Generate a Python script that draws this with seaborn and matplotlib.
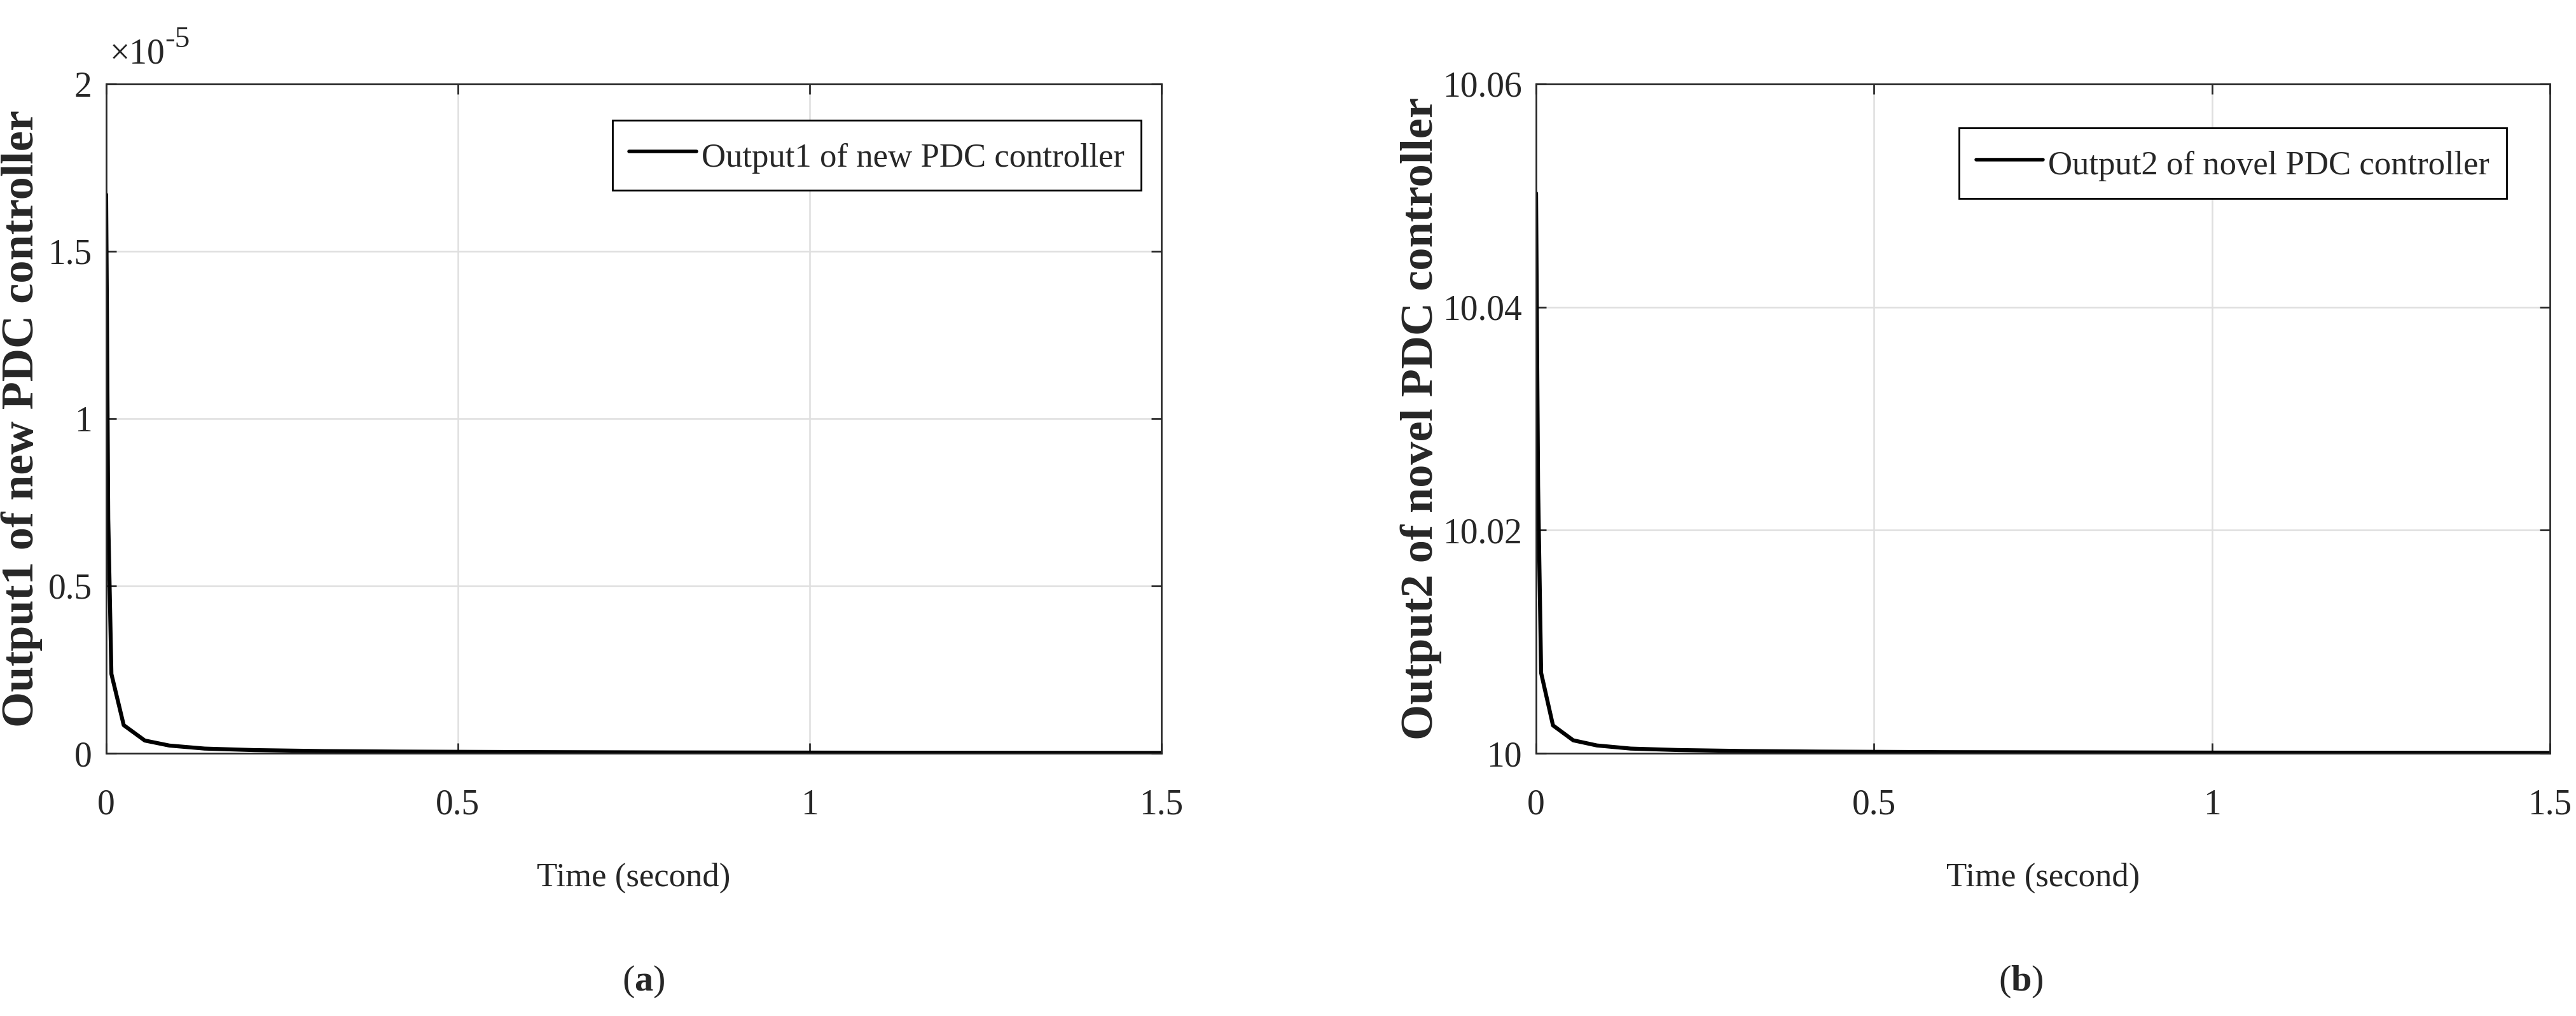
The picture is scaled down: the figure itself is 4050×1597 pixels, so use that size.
"""Salidas del controlador PDC (a) y (b)."""

import matplotlib
matplotlib.use("Agg")

import matplotlib.pyplot as plt
import pandas as pd
import seaborn as sns
from matplotlib.ticker import FuncFormatter, FixedLocator

# datos
time_s = [0, 0.001, 0.003, 0.0075, 0.025, 0.055, 0.09, 0.14, 0.21, 0.31, 0.42, 0.6, 0.8, 1.0, 1.2, 1.5]
output1 = [1.67e-5, 1.36e-5, 0.70e-5, 0.237e-5, 0.084e-5, 0.038e-5, 0.023e-5, 0.014e-5,
           0.0095e-5, 0.0065e-5, 0.005e-5, 0.0035e-5, 0.0025e-5, 0.002e-5, 0.0015e-5, 0.001e-5]
output2 = [10.0502, 10.041, 10.024, 10.0072, 10.0025, 10.00116, 10.0007, 10.00042,
           10.00029, 10.0002, 10.00015, 10.0001, 10.00008, 10.00006, 10.00005, 10.00003]

x_ticks = [0, 0.5, 1, 1.5]
y1_ticks = [0, 0.5e-5, 1e-5, 1.5e-5, 2e-5]
y2_ticks = [10, 10.02, 10.04, 10.06]

labels = {
    "legend1": "Output1 of new PDC controller",
    "legend2": "Output2 of novel PDC controller",
    "ylabel1": "Output1 of new PDC controller",
    "ylabel2": "Output2 of novel PDC controller",
    "xlabel": "Time (second)",
}

sns.set_theme(style="white")
plt.rcParams["font.family"] = ["Liberation Serif", "DejaVu Serif"]
plt.rcParams["mathtext.fontset"] = "custom"
plt.rcParams["mathtext.rm"] = "Liberation Serif"
plt.rcParams["mathtext.bf"] = "Liberation Serif:bold"
plt.rcParams["mathtext.default"] = "regular"

TEXT = "#262626"
TICK_FS = 40

df = pd.DataFrame({"time": time_s, "output1": output1, "output2": output2})

fig = plt.figure(figsize=(40.5, 15.97), dpi=100)
ax1 = fig.add_axes([0.0412, 0.2586, 0.4096, 0.6588])
ax2 = fig.add_axes([0.5963, 0.2586, 0.3936, 0.6588])


def style_axis(ax, ylim, yticks, ylabel, ylabel_x, fmt):
    ax.set_xlim(0, 1.5)
    ax.set_ylim(*ylim)
    ax.xaxis.set_major_locator(FixedLocator(x_ticks))
    ax.yaxis.set_major_locator(FixedLocator(yticks))
    ax.xaxis.set_major_formatter(FuncFormatter(lambda v, p: f"{v:g}"))
    ax.yaxis.set_major_formatter(FuncFormatter(fmt))
    ax.grid(True, color="#dfdfdf", linewidth=1.8)
    ax.set_axisbelow(True)
    for spine in ax.spines.values():
        spine.set_color(TEXT)
        spine.set_linewidth(1.9)
        spine.set_visible(True)
    ax.tick_params(axis="both", direction="in", length=11.5, width=1.9, color=TEXT,
                   labelsize=TICK_FS, labelcolor=TEXT, bottom=True, top=True, left=True, right=True)
    ax.tick_params(axis="x", pad=40)
    ax.tick_params(axis="y", pad=16)
    ax.set_xlabel(labels["xlabel"], fontsize=38, color=TEXT)
    ax.xaxis.set_label_coords(0.5, -0.1635)
    ax.set_ylabel(ylabel, fontsize=52, fontweight="bold", color=TEXT)
    ax.yaxis.set_label_coords(ylabel_x, 0.5)


sns.lineplot(data=df, x="time", y="output1", color="black", linewidth=4.5,
             label=labels["legend1"], ax=ax1)
sns.lineplot(data=df, x="time", y="output2", color="black", linewidth=4.5,
             label=labels["legend2"], ax=ax2)

style_axis(ax1, (0, 2e-5), y1_ticks, labels["ylabel1"], -0.0603, lambda v, p: f"{v * 1e5:g}")
style_axis(ax2, (10, 10.06), y2_ticks, labels["ylabel2"], -0.0928, lambda v, p: f"{v:g}")

# factor de escala estilo MATLAB: "x10" con exponente "-5"
base = ax1.text(0.0036, 1.019, "×10", transform=ax1.transAxes, ha="left", va="bottom",
                fontsize=40, color=TEXT)
ax1.annotate("-5", xy=(1.0, 0.95), xycoords=base, ha="left", va="center",
             fontsize=34, color=TEXT)

for ax, anchor in [(ax1, (0.981, 0.946)), (ax2, (0.957, 0.934))]:
    leg = ax.legend(loc="upper right", bbox_to_anchor=anchor, borderaxespad=0, fontsize=38,
                    frameon=True, fancybox=False, edgecolor="black", framealpha=1,
                    handlelength=2.0, handleheight=1.3, handletextpad=0.15, borderpad=0.5)
    leg.get_frame().set_linewidth(2.0)
    for line in leg.get_lines():
        line.set_linewidth(4)

fig.text(1012 / 4050, 1 - 1543 / 1597, r"($\mathbf{a}$)", ha="center", va="center", fontsize=42, color=TEXT)
fig.text(3177 / 4050, 1 - 1543 / 1597, r"($\mathbf{b}$)", ha="center", va="center", fontsize=42, color=TEXT)

fig.savefig("out.png", dpi=100, facecolor="white")
plt.close(fig)
